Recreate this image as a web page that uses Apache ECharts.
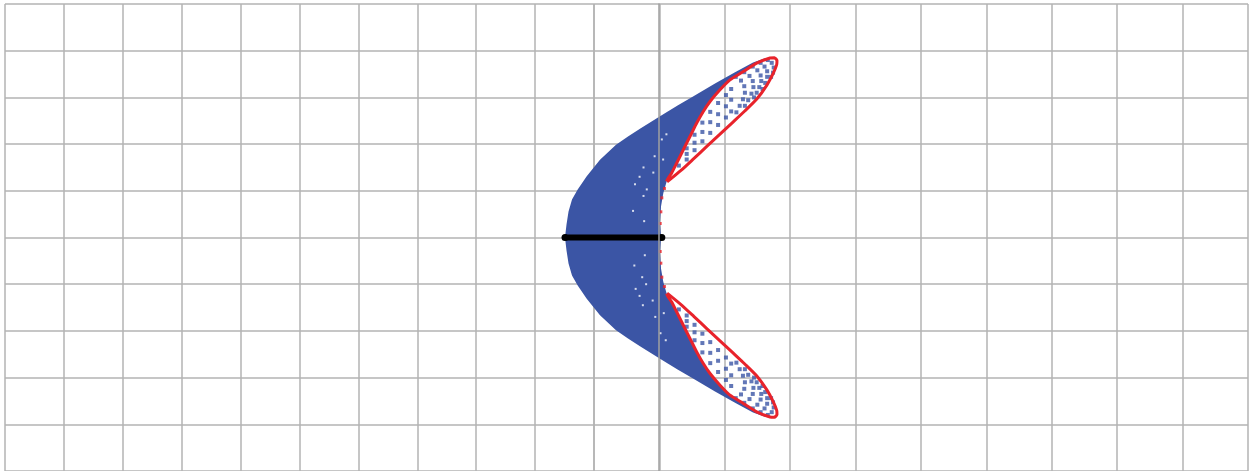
<!DOCTYPE html>
<html><head><meta charset="utf-8">
<script src="https://cdn.jsdelivr.net/npm/echarts@6/dist/echarts.min.js"></script>
<style>html,body{margin:0;padding:0;background:#fff}#c{width:1251px;height:471px}</style>
</head><body><div id="c"></div>
<script>
// Blue region boundary (x, y in chart units)
const outerUpper = [[-1.44,0],[-1.417,0.278],[-1.386,0.556],[-1.333,0.812],[-1.246,1.026],[-1.108,1.31],[-0.905,1.667],[-0.66,1.987],[-0.477,2.162],[-0.294,2.331],[-0.11,2.489],[0,2.585],[0.287,2.83],[0.517,3.02],[0.853,3.30],[1.159,3.54],[1.434,3.745],[1.617,3.84],[1.77,3.872]];
const redInnerUpper = [[1.694,3.845],[1.49,3.733],[1.286,3.553],[1.082,3.376],[0.929,3.162],[0.777,2.912],[0.674,2.699],[0.573,2.451],[0.497,2.237],[0.42,2.024],[0.344,1.81],[0.268,1.596],[0.191,1.382],[0.115,1.203]];
const innerEdgeUpper = [[0.115,1.203],[0.063,0.955],[0.028,0.669],[0.012,0.314],[0.028,0]];
const innerEdgeLower = [[0.028,0],[0.012,-0.314],[0.028,-0.669],[0.063,-0.955],[0.115,-1.203]];
const redInnerLower = [[0.115,-1.203],[0.191,-1.382],[0.268,-1.596],[0.344,-1.81],[0.42,-2.024],[0.497,-2.237],[0.573,-2.451],[0.674,-2.699],[0.777,-2.912],[0.929,-3.162],[1.082,-3.376],[1.286,-3.553],[1.49,-3.733],[1.694,-3.845]];
const outerLower = [[1.77,-3.872],[1.617,-3.84],[1.434,-3.745],[1.159,-3.54],[0.853,-3.30],[0.517,-3.02],[0.287,-2.83],[0,-2.585],[-0.11,-2.489],[-0.294,-2.331],[-0.477,-2.162],[-0.66,-1.987],[-0.905,-1.667],[-1.108,-1.31],[-1.246,-1.026],[-1.333,-0.812],[-1.386,-0.556],[-1.417,-0.278],[-1.44,0]];

// Red closed curves
const redLoopUpper = [[0.12,1.19],[0.333,1.436],[0.532,1.694],[0.731,1.955],[0.929,2.212],[1.128,2.472],[1.312,2.714],[1.495,2.97],[1.648,3.269],[1.744,3.519],[1.796,3.701],[1.80,3.79],[1.76,3.85],[1.694,3.845],[1.49,3.733],[1.286,3.553],[1.082,3.376],[0.929,3.162],[0.777,2.912],[0.674,2.699],[0.573,2.451],[0.497,2.237],[0.42,2.024],[0.344,1.81],[0.268,1.596],[0.191,1.382],[0.115,1.203],[0.12,1.19]];
const redLoopLower = [[0.12,-1.19],[0.333,-1.436],[0.532,-1.694],[0.731,-1.955],[0.929,-2.212],[1.128,-2.472],[1.312,-2.714],[1.495,-2.97],[1.648,-3.269],[1.744,-3.519],[1.796,-3.701],[1.80,-3.79],[1.76,-3.85],[1.694,-3.845],[1.49,-3.733],[1.286,-3.553],[1.082,-3.376],[0.929,-3.162],[0.777,-2.912],[0.674,-2.699],[0.573,-2.451],[0.497,-2.237],[0.42,-2.024],[0.344,-1.81],[0.268,-1.596],[0.191,-1.382],[0.115,-1.203],[0.12,-1.19]];

// Sparse blue dots inside the red curves (scattered dots and arcs near the tips)
const dotsUpper = [[0.30,1.54],[0.42,1.67],[0.42,1.79],[0.42,1.91],[0.54,1.87],[0.54,2.03],[0.54,2.20],[0.66,2.06],[0.66,2.26],[0.66,2.46],[0.78,2.24],[0.78,2.47],[0.78,2.69],[0.90,2.41],[0.90,2.64],[0.90,2.88],[1.02,2.57],[1.02,2.81],[1.02,3.05],[1.10,2.70],[1.10,2.95],[1.10,3.18],
  [1.17,3.44],[1.25,3.36],[1.30,3.24],[1.31,3.10],[1.28,2.96],[1.23,2.82],[1.18,2.68],
  [1.30,3.54],[1.38,3.46],[1.43,3.35],[1.44,3.22],[1.41,3.08],[1.36,2.94],[1.31,2.82],
  [1.43,3.66],[1.50,3.58],[1.55,3.47],[1.56,3.35],[1.53,3.22],[1.49,3.10],[1.45,3.00],
  [1.55,3.74],[1.61,3.66],[1.65,3.56],[1.65,3.44],[1.62,3.31],[1.58,3.18],
  [1.66,3.80],[1.72,3.74],[1.75,3.64],[1.74,3.53],[1.71,3.44]];
const dotsLower = [[0.30,-1.54],[0.42,-1.67],[0.42,-1.79],[0.42,-1.91],[0.54,-1.87],[0.54,-2.03],[0.54,-2.20],[0.66,-2.06],[0.66,-2.26],[0.66,-2.46],[0.78,-2.24],[0.78,-2.47],[0.78,-2.69],[0.90,-2.41],[0.90,-2.64],[0.90,-2.88],[1.02,-2.57],[1.02,-2.81],[1.02,-3.05],[1.10,-2.70],[1.10,-2.95],[1.10,-3.18],
  [1.17,-3.44],[1.25,-3.36],[1.30,-3.24],[1.31,-3.10],[1.28,-2.96],[1.23,-2.82],[1.18,-2.68],
  [1.30,-3.54],[1.38,-3.46],[1.43,-3.35],[1.44,-3.22],[1.41,-3.08],[1.36,-2.94],[1.31,-2.82],
  [1.43,-3.66],[1.50,-3.58],[1.55,-3.47],[1.56,-3.35],[1.53,-3.22],[1.49,-3.10],[1.45,-3.00],
  [1.55,-3.74],[1.61,-3.66],[1.65,-3.56],[1.65,-3.44],[1.62,-3.31],[1.58,-3.18],
  [1.66,-3.80],[1.72,-3.74],[1.75,-3.64],[1.74,-3.53],[1.71,-3.44]];

// White gaps inside the dense region
const whiteSpecks = [[0.04,2.10],[0.11,2.21],[-0.07,1.74],[-0.24,1.50],[-0.37,1.14],[-0.19,1.03],[-0.24,0.89],[-0.40,0.57],[-0.23,0.35],[-0.09,1.39],[0.06,1.67],[-0.30,1.30],[0.02,-2.05],[0.10,-2.20],[-0.06,-1.70],[-0.25,-1.45],[-0.36,-1.10],[-0.20,-1.00],[-0.26,-0.85],[-0.38,-0.60],[-0.22,-0.38],[-0.10,-1.35],[0.07,-1.62],[-0.30,-1.25]];
// Red specks along the inner edge
const redSpecks = [[0.08,1.05],[0.04,0.85],[0.025,0.55],[0.015,0.30],[0.08,-1.05],[0.04,-0.85],[0.025,-0.55],[0.015,-0.30]];
// Black segment on the axis
const blackLine = [[-1.44,0],[0.04,0]];

const regionPoints = [].concat(outerUpper, redInnerUpper, innerEdgeUpper, innerEdgeLower, redInnerLower, outerLower);

const BLUE = '#3b55a5', RED = '#e8232b';
const chart = echarts.init(document.getElementById('c'));
const hidden = {show:false};
const gridLine = {show:true, lineStyle:{color:'#b3b3b3', width:1.5}};
function lineAxis(gi){ return {type:'value', gridIndex:gi, min:0, max:10, interval:1, axisLine:hidden, axisTick:hidden, axisLabel:hidden, splitLine:gridLine}; }

chart.setOption({
  animation:false,
  backgroundColor:'#fff',
  grid:[{left:5, top:4, width:589, height:470},{left:594, top:4, width:654, height:470},{left:5, top:4, width:1243, height:470}],
  xAxis:[lineAxis(0), lineAxis(1), {type:'value', gridIndex:2, min:-10, max:9, axisLine:hidden, axisTick:hidden, axisLabel:hidden, splitLine:hidden}],
  yAxis:[lineAxis(0), lineAxis(1), {type:'value', gridIndex:2, min:-5, max:5, z:10,
     axisLine:{show:true, onZero:true, lineStyle:{color:'#a0a0a0', width:1.5}}, axisTick:hidden, axisLabel:hidden, splitLine:hidden}],
  series:[
    {type:'custom', xAxisIndex:2, yAxisIndex:2, data:[[0,0]], z:2, silent:true,
     renderItem:(params, api)=>({type:'polygon', shape:{points: regionPoints.map(p=>api.coord(p))}, style:{fill:BLUE}})},
    {type:'scatter', xAxisIndex:2, yAxisIndex:2, data:dotsUpper.concat(dotsLower), symbol:'rect', symbolSize:4, itemStyle:{color:BLUE}, z:3},
    {type:'scatter', xAxisIndex:2, yAxisIndex:2, data:whiteSpecks, symbol:'rect', symbolSize:2, itemStyle:{color:'#fff'}, z:3},
    {type:'scatter', xAxisIndex:2, yAxisIndex:2, data:redSpecks, symbol:'rect', symbolSize:3, itemStyle:{color:RED}, z:3},
    {type:'line', xAxisIndex:2, yAxisIndex:2, data:redLoopUpper, smooth:0.2, showSymbol:false, lineStyle:{color:RED, width:3}, z:5},
    {type:'line', xAxisIndex:2, yAxisIndex:2, data:redLoopLower, smooth:0.2, showSymbol:false, lineStyle:{color:RED, width:3}, z:5},
    {type:'line', xAxisIndex:2, yAxisIndex:2, data:blackLine, symbol:'circle', symbolSize:7, itemStyle:{color:'#000'}, lineStyle:{color:'#000', width:6}, z:6}
  ]
});
</script></body></html>
